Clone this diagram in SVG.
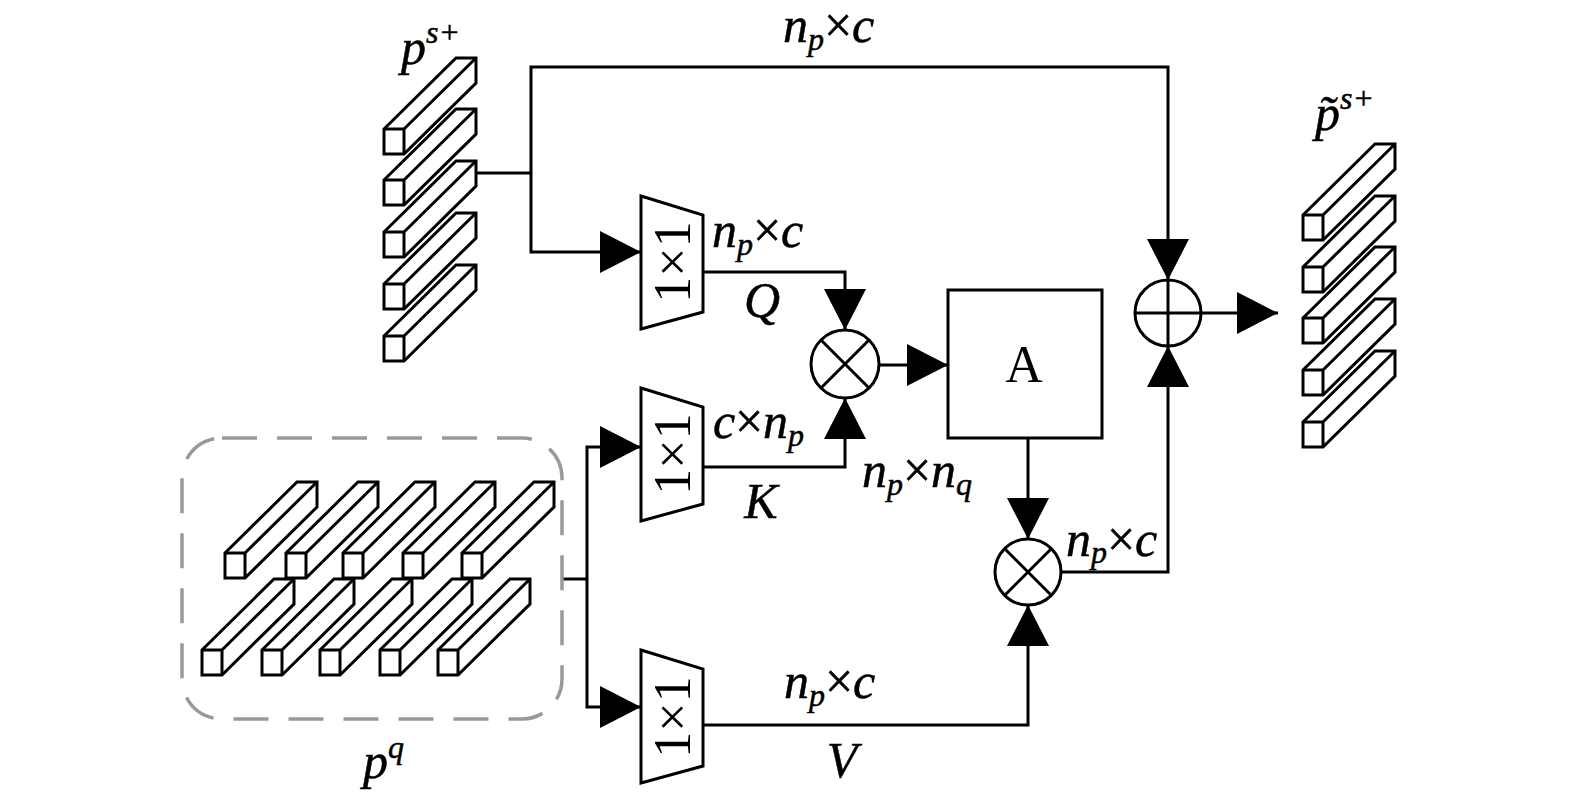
<svg xmlns="http://www.w3.org/2000/svg" xmlns:xlink="http://www.w3.org/1999/xlink" width="1575" height="797" viewBox="0 0 1575 797">
<style>
.ln{fill:none;stroke:#000;stroke-width:3}
.sh{fill:#fff;stroke:#000;stroke-width:3;stroke-linejoin:miter}
.t{font-family:"Liberation Serif","Times New Roman",serif;font-size:50px;fill:#000;stroke:#000;stroke-width:0.5}
.i{font-style:italic}
.s{font-size:32px}
.big{font-family:"Liberation Serif","Times New Roman",serif;font-size:52px;fill:#000}
</style>
<defs>
<marker id="ah" markerUnits="userSpaceOnUse" markerWidth="42" markerHeight="42" viewBox="0 0 41 42" refX="41" refY="21" orient="auto">
<path d="M0,0 L41,21 L0,42 Z" fill="#000"/>
</marker>
<g id="bar">
<path d="M0,0 L72,-71 L92,-71 L92,-46 L20,25 L0,25 Z" class="sh"/>
<path d="M0,0 H20 V25 M20,0 L92,-71" class="ln"/>
</g>
<path id="trap" d="M0,0 L62,19 L62,116 L0,133 Z" class="sh"/>
</defs>
<rect width="1575" height="797" fill="#fff"/>

<g id="connectors">
<path class="ln" d="M476,173 H531"/>
<path class="ln" d="M531,173 V252 H641" marker-end="url(#ah)"/>
<path class="ln" d="M531,173 V67 H1168 V280" marker-end="url(#ah)"/>
<path class="ln" d="M703,272 H845 V330" marker-end="url(#ah)"/>
<path class="ln" d="M703,467 H845 V398" marker-end="url(#ah)"/>
<path class="ln" d="M879,365 H948" marker-end="url(#ah)"/>
<path class="ln" d="M1028,438 V539" marker-end="url(#ah)"/>
<path class="ln" d="M703,725 H1028 V605" marker-end="url(#ah)"/>
<path class="ln" d="M1061,572 H1168 V346" marker-end="url(#ah)"/>
<path class="ln" d="M1201,313 H1278" marker-end="url(#ah)"/>
<path class="ln" d="M562,579 H587"/>
<path class="ln" d="M587,579 V447 H641" marker-end="url(#ah)"/>
<path class="ln" d="M587,579 V707 H641" marker-end="url(#ah)"/>
</g>

<g id="ps">
<use xlink:href="#bar" href="#bar" x="384" y="129"/>
<use xlink:href="#bar" href="#bar" x="384" y="180"/>
<use xlink:href="#bar" href="#bar" x="384" y="232"/>
<use xlink:href="#bar" href="#bar" x="384" y="284"/>
<use xlink:href="#bar" href="#bar" x="384" y="336"/>
<text class="t i" x="401" y="64">p<tspan class="s" dy="-21">s+</tspan></text>
</g>

<g id="pq">
<rect x="182" y="438" width="380" height="281" rx="40" ry="40" fill="none" stroke="#999" stroke-width="3.5" stroke-dasharray="35 20"/>
<use xlink:href="#bar" href="#bar" x="225" y="553"/>
<use xlink:href="#bar" href="#bar" x="286" y="553"/>
<use xlink:href="#bar" href="#bar" x="343" y="553"/>
<use xlink:href="#bar" href="#bar" x="403" y="553"/>
<use xlink:href="#bar" href="#bar" x="462" y="553"/>
<use xlink:href="#bar" href="#bar" x="202" y="650"/>
<use xlink:href="#bar" href="#bar" x="262" y="650"/>
<use xlink:href="#bar" href="#bar" x="320" y="650"/>
<use xlink:href="#bar" href="#bar" x="380" y="650"/>
<use xlink:href="#bar" href="#bar" x="438" y="650"/>
<text class="t i" x="363" y="778">p<tspan class="s" dy="-20">q</tspan></text>
</g>

<g id="convQ">
<use xlink:href="#trap" href="#trap" x="641" y="196"/>
<text class="big" text-anchor="middle" dominant-baseline="central" transform="translate(672,262) rotate(-90)">1×1</text>
</g>
<g id="convK">
<use xlink:href="#trap" href="#trap" x="641" y="388"/>
<text class="big" text-anchor="middle" dominant-baseline="central" transform="translate(672,454) rotate(-90)">1×1</text>
</g>
<g id="convV">
<use xlink:href="#trap" href="#trap" x="641" y="650"/>
<text class="big" text-anchor="middle" dominant-baseline="central" transform="translate(672,717) rotate(-90)">1×1</text>
</g>

<g id="mul1">
<circle cx="845" cy="364" r="34" class="sh"/>
<path class="ln" d="M821,340 L869,388 M869,340 L821,388"/>
</g>
<g id="attA">
<rect x="948" y="290" width="154" height="148" class="sh"/>
<text class="big" x="1024" y="382" text-anchor="middle">A</text>
</g>
<g id="mul2">
<circle cx="1028" cy="572" r="33" class="sh"/>
<path class="ln" d="M1005,549 L1051,595 M1051,549 L1005,595"/>
</g>
<g id="add">
<circle cx="1168" cy="313" r="33" class="sh"/>
<path class="ln" d="M1135,313 H1201 M1168,280 V346"/>
</g>

<g id="pout">
<use xlink:href="#bar" href="#bar" x="1303" y="215"/>
<use xlink:href="#bar" href="#bar" x="1303" y="267"/>
<use xlink:href="#bar" href="#bar" x="1303" y="318"/>
<use xlink:href="#bar" href="#bar" x="1303" y="370"/>
<use xlink:href="#bar" href="#bar" x="1303" y="422"/>
<text class="t i" x="1315" y="130">p̃<tspan class="s" dy="-21">s+</tspan></text>
</g>

<g id="labels">
<text class="t i" x="783" y="42">n<tspan class="s" dy="8">p</tspan></text>
<text class="t" x="824" y="42">×</text>
<text class="t i" x="852" y="42">c</text>

<text class="t i" x="712" y="247">n<tspan class="s" dy="8">p</tspan></text>
<text class="t" x="753" y="247">×</text>
<text class="t i" x="781" y="247">c</text>

<text class="t i" x="762" y="317" text-anchor="middle">Q</text>

<text class="t i" x="713" y="438">c</text>
<text class="t" x="735" y="438">×</text>
<text class="t i" x="763" y="438">n<tspan class="s" dy="8">p</tspan></text>

<text class="t i" x="761" y="518" text-anchor="middle">K</text>

<text class="t i" x="862" y="487">n<tspan class="s" dy="8">p</tspan></text>
<text class="t" x="903" y="487">×</text>
<text class="t i" x="931" y="487">n<tspan class="s" dy="8">q</tspan></text>

<text class="t i" x="1066" y="556">n<tspan class="s" dy="7">p</tspan></text>
<text class="t" x="1107" y="556">×</text>
<text class="t i" x="1135" y="556">c</text>

<text class="t i" x="784" y="698">n<tspan class="s" dy="8">p</tspan></text>
<text class="t" x="825" y="698">×</text>
<text class="t i" x="853" y="698">c</text>

<text class="t i" x="842" y="777" text-anchor="middle">V</text>
</g>
</svg>
